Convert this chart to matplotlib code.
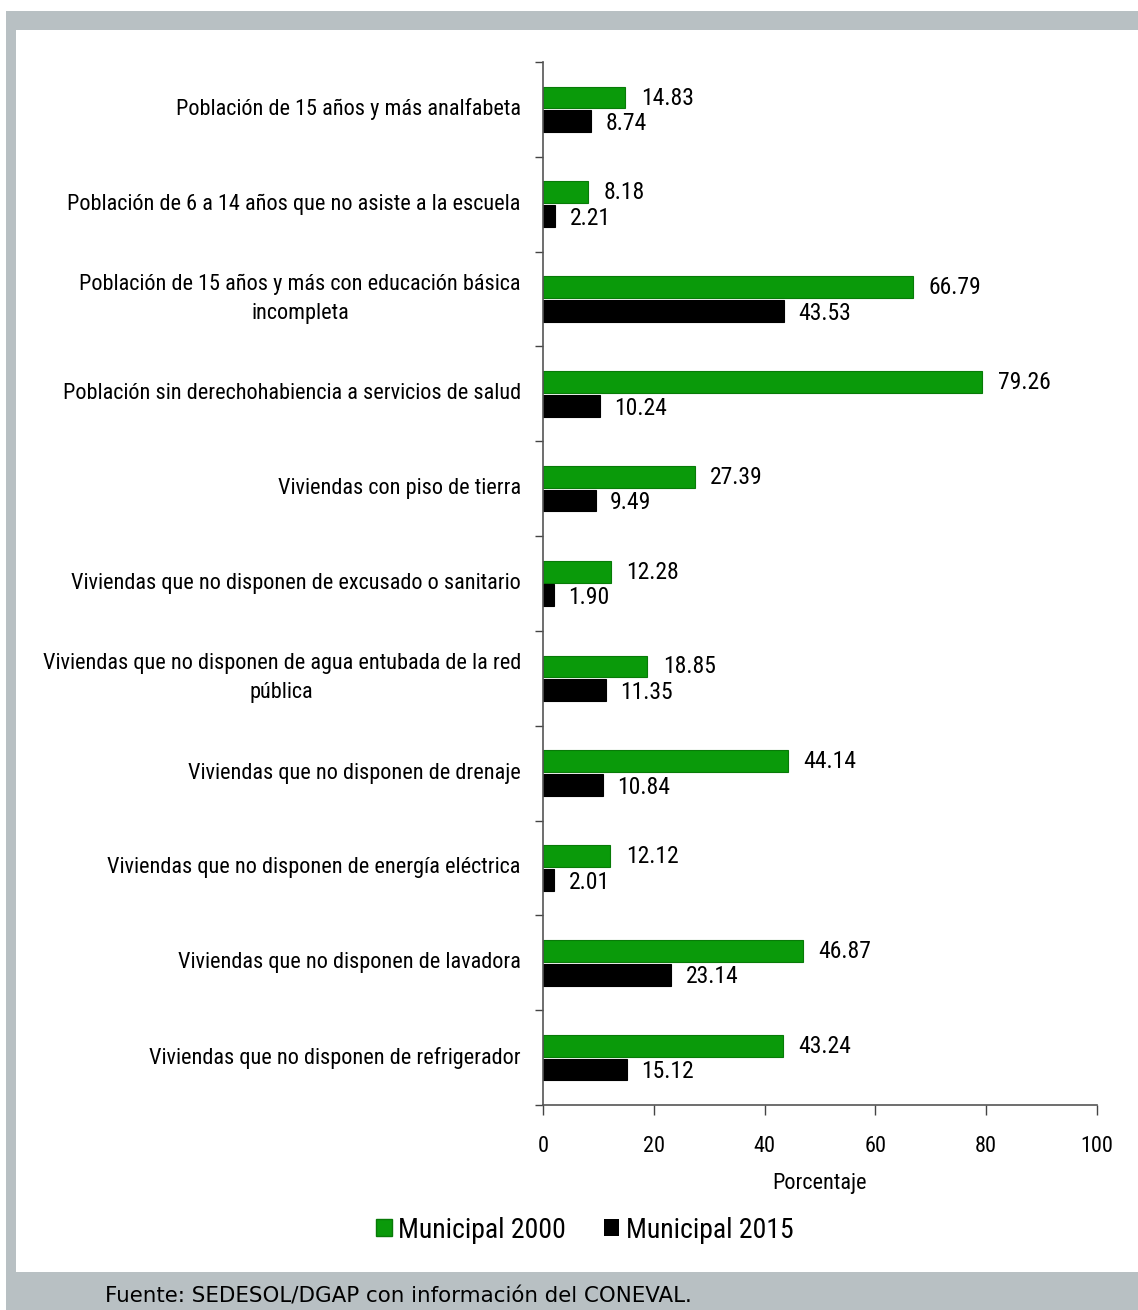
import matplotlib
matplotlib.use("Agg")
import matplotlib.pyplot as plt
from matplotlib.patches import Rectangle, Patch
from matplotlib import font_manager as fm
import numpy as np

categories = [
    "Población de 15 años y más analfabeta",
    "Población de 6 a 14 años que no asiste a la escuela",
    "Población de 15 años y más con educación básica\nincompleta",
    "Población sin derechohabiencia a servicios de salud",
    "Viviendas con piso de tierra",
    "Viviendas que no disponen de excusado o sanitario",
    "Viviendas que no disponen de agua entubada de la red\npública",
    "Viviendas que no disponen de drenaje",
    "Viviendas que no disponen de energía eléctrica",
    "Viviendas que no disponen de lavadora",
    "Viviendas que no disponen de refrigerador",
]
municipal_2000 = [14.83, 8.18, 66.79, 79.26, 27.39, 12.28, 18.85, 44.14, 12.12, 46.87, 43.24]
municipal_2015 = [8.74, 2.21, 43.53, 10.24, 9.49, 1.90, 11.35, 10.84, 2.01, 23.14, 15.12]
series_names = ["Municipal 2000", "Municipal 2015"]
x_ticks = [0, 20, 40, 60, 80, 100]
x_label = "Porcentaje"
source = "Fuente: SEDESOL/DGAP con información del CONEVAL."

# pick a condensed face if one is installed
names = {f.name for f in fm.fontManager.ttflist}
cond_dejavu = any(f.name == "DejaVu Sans" and str(f.stretch) in ("condensed", "semi-condensed", "75", "87")
                  for f in fm.fontManager.ttflist)
stretch = "normal"
family = None
for cand in ["Liberation Sans Narrow", "Roboto Condensed", "Open Sans Condensed"]:
    if cand in names:
        family = cand
        break
if family is None:
    if cond_dejavu:
        family = "DejaVu Sans"
        stretch = "condensed"
    else:
        family = "Liberation Sans"
narrow = family != "Liberation Sans"
FONT = [family, "DejaVu Sans"]
plt.rcParams["font.family"] = FONT
plt.rcParams["font.stretch"] = stretch
base = 16 if narrow else 14

W, H = 1138, 1310
fig = plt.figure(figsize=(W / 100, H / 100), dpi=100, facecolor="white")

gray = "#b8c0c3"
fig.patches.append(Rectangle((6 / W, 0), 1, 1 - 11 / H, transform=fig.transFigure,
                             facecolor=gray, edgecolor="none", zorder=-10))
fig.patches.append(Rectangle((16 / W, 1 - 1272 / H), 1, (1272 - 30) / H,
                             transform=fig.transFigure, facecolor="white",
                             edgecolor="none", zorder=-9))

ax = fig.add_axes([543 / W, 1 - 1105 / H, (1097 - 543) / W, (1105 - 62) / H])
ax.set_facecolor("none")

n = len(categories)
y = np.arange(n)
h = 0.23
green = "#0a9a0a"
ax.barh(y - 0.125, municipal_2000, height=h, color=green, edgecolor="#087a08",
        linewidth=0.8, label=series_names[0])
ax.barh(y + 0.125, municipal_2015, height=h, color="black", edgecolor="black",
        linewidth=0.8, label=series_names[1])

for yi, v in zip(y, municipal_2000):
    ax.text(v + 2.8, yi - 0.12, f"{v:.2f}", va="center", ha="left", fontsize=base + 1)
for yi, v in zip(y, municipal_2015):
    ax.text(v + 2.6, yi + 0.15, f"{v:.2f}", va="center", ha="left", fontsize=base + 1)

ax.set_ylim(n - 0.5, -0.5)
ax.set_xlim(0, 100)
ax.set_yticks(np.arange(n + 1) - 0.5)
ax.set_yticklabels([])
ax.tick_params(axis="y", length=6, width=1, color="#444444", direction="out")
for yi, cat in zip(y, categories):
    ax.text(-4.0, yi, cat, ha="right", va="center", multialignment="center",
            fontsize=base, linespacing=1.5)

ax.set_xticks(x_ticks)
ax.set_xticklabels([str(t) for t in x_ticks], fontsize=base)
ax.tick_params(axis="x", length=7, width=1, color="#444444", direction="out", pad=15)
ax.set_xlabel(x_label, fontsize=base, labelpad=12)

for s in ["top", "right"]:
    ax.spines[s].set_visible(False)
for s in ["left", "bottom"]:
    ax.spines[s].set_color("#555555")
    ax.spines[s].set_linewidth(1.2)

handles = [Patch(facecolor=green, edgecolor="#087a08"), Patch(facecolor="black")]
fig.legend(handles, series_names, loc="center", bbox_to_anchor=(585 / W, 1 - 1230 / H),
           ncol=2, frameon=False, fontsize=base + 4, handlelength=0.55, handleheight=0.55,
           handletextpad=0.25, columnspacing=1.35)

fig.text(105 / W, 1 - 1296 / H, source, ha="left", va="center", fontsize=15.4,
         family=["DejaVu Sans"], stretch="normal", color="black")

fig.savefig("out.png", dpi=100, facecolor="white")
